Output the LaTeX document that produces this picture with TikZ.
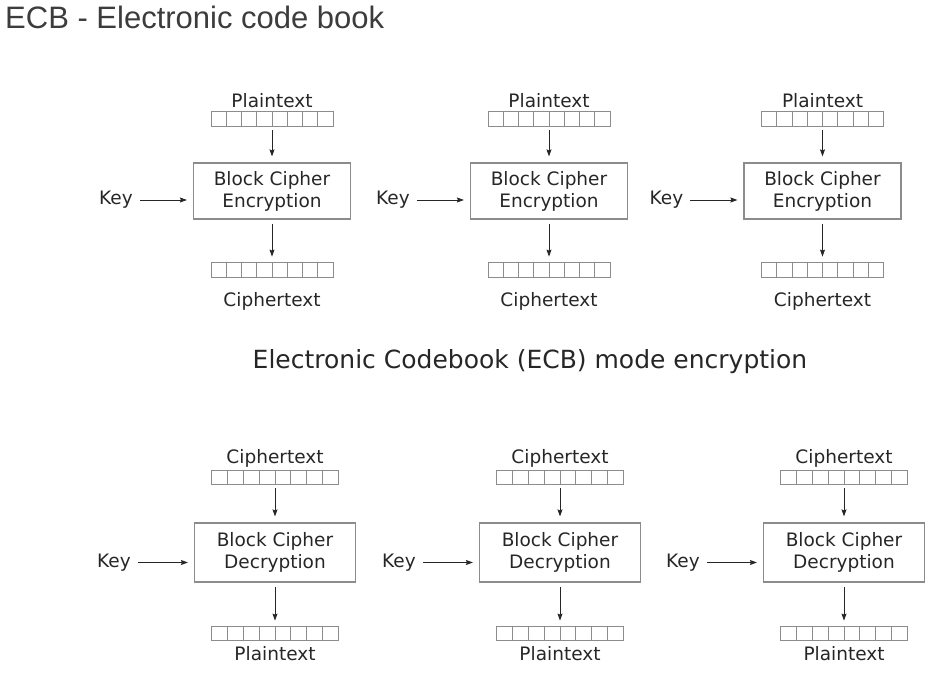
\documentclass[tikz,border=0pt]{standalone}
\usepackage{fontspec}
\setmainfont{DejaVu Sans}
\newfontfamily\titlefont{Liberation Sans}
\usetikzlibrary{positioning, arrows.meta, calc}
\definecolor{titlegray}{RGB}{60,60,60}
\definecolor{boxgray}{RGB}{140,140,140}
\tikzset{x=1pt, y=-1pt, % work in pixels of the reference
every node/.style={text=black!85},
txt/.style={font=\fontsize{18.5}{22}\selectfont, inner sep=3pt},
cipher/.style={ % the block cipher boxes
draw=boxgray, line width=1.2pt,
minimum width=157pt, minimum height=56pt,
align=center, txt},
bar/.style={ % a block of 8 cells
draw=boxgray, line width=0.9pt,
minimum width=122pt, minimum height=15pt,
inner sep=0pt, outer sep=0pt,
path picture={
\foreach \k in {1,...,7}
\draw[boxgray, line width=0.9pt]
($(path picture bounding box.south west)!\k/8!(path picture bounding box.south east)$) --
($(path picture bounding box.north west)!\k/8!(path picture bounding box.north east)$);}},
flow/.style={ % arrows between parts
draw=black!85, line width=0.9pt,
-{Stealth[length=7pt,width=5pt,inset=1pt]},
shorten <=4pt, shorten >=6pt}}

\begin{document}
\begin{tikzpicture}
\useasboundingbox (0,0) rectangle (938,674);

\node[anchor=base west, inner sep=0pt, text=titlegray, font=\titlefont\fontsize{31}{36}\selectfont]
(title) at (5,28.5) {ECB - Electronic code book};
\node[anchor=base, inner sep=0pt, font=\fontsize{25}{30}\selectfont]
(caption) at (530,368) {Electronic Codebook (ECB) mode encryption};

% encryption
\foreach \i/\x in {1/272,2/549,3/822.5}{
\node[cipher] (enc\i) at (\x,191) {Block Cipher\\Encryption};
\node[bar, above=36pt of enc\i] (pin\i) {};
\node[txt, above=0pt of pin\i] (ptext\i) {Plaintext};
\node[bar, below=43pt of enc\i] (cout\i) {};
\node[txt, below=12pt of cout\i] (ctext\i) {Ciphertext};
\node[txt, left=57pt of enc\i, yshift=-9pt] (ekey\i) {Key};
\draw[flow] (pin\i) -- (enc\i);
\draw[flow] (enc\i) -- (cout\i);
\draw[flow] (ekey\i) -- (ekey\i -| enc\i.west);
}

% decryption
\foreach \i/\x in {1/275,2/560,3/844}{
\node[cipher, minimum width=161pt, minimum height=59pt] (dec\i) at (\x,552.5) {Block Cipher\\Decryption};
\node[bar, minimum width=127pt, minimum height=14pt, above=38pt of dec\i] (cin\i) {};
\node[txt, above=0pt of cin\i] (cintext\i) {Ciphertext};
\node[bar, minimum width=127pt, minimum height=14pt, below=44pt of dec\i] (pout\i) {};
\node[txt, below=3pt of pout\i] (pouttext\i) {Plaintext};
\node[txt, left=60pt of dec\i, yshift=-10pt] (dkey\i) {Key};
\draw[flow] (cin\i) -- (dec\i);
\draw[flow] (dec\i) -- (pout\i);
\draw[flow] (dkey\i) -- (dkey\i -| dec\i.west);
}
\end{tikzpicture}
\end{document}
